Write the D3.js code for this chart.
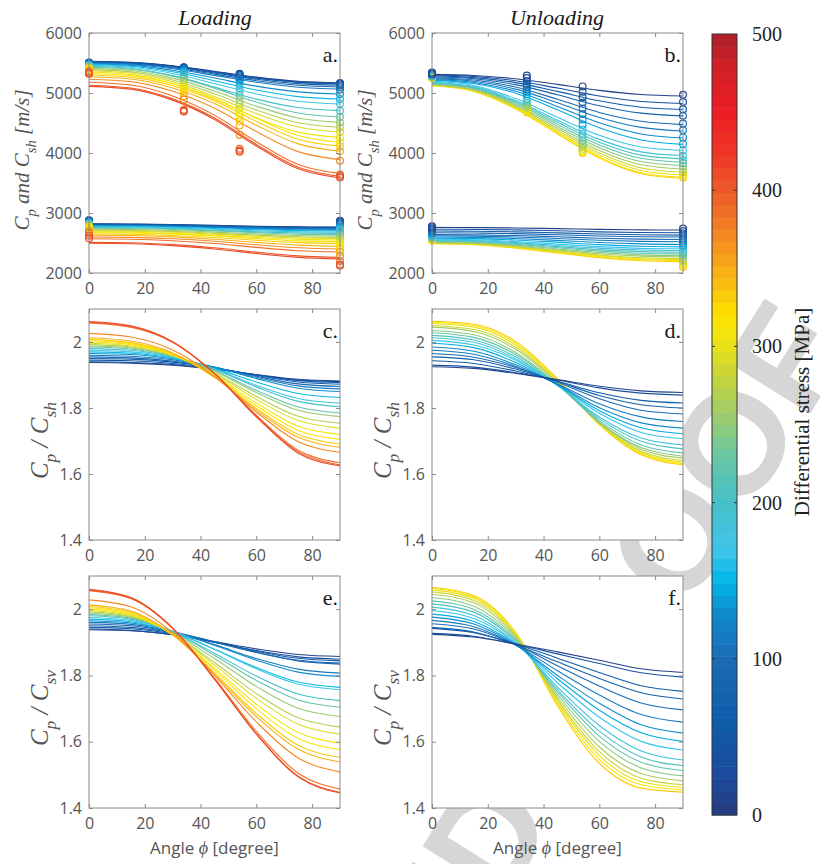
<!DOCTYPE html>
<html>
<head>
<meta charset="utf-8">
<script src="https://cdn.jsdelivr.net/npm/d3@7"></script>
<style>
  body { margin: 0; background: #fff; }
  svg { display: block; }
</style>
</head>
<body>
<div id="chart"></div>
<script>

//////// DATA ////////
var angles = [0, 15, 30, 45, 60, 75, 90];
var xTicks = [0, 20, 40, 60, 80];
var velTicks = [2000, 3000, 4000, 5000, 6000];
var ratioTicks = [1.4, 1.6, 1.8, 2];
var barTicks = [0, 100, 200, 300, 400, 500];

// differential stress of each loading / unloading step [MPa]
var loadStress = [10, 30, 50, 70, 90, 110, 130, 150, 175, 200, 225, 250, 270, 290, 305, 320, 335, 350, 370, 390, 400, 410];
var unloadStress = [335, 318, 300, 282, 264, 245, 225, 205, 185, 165, 145, 125, 110, 95, 75, 55, 35, 15];

// loading: fitted Cp (m/s) at the angles above
var loadCp = [
  [5530, 5512, 5454, 5361, 5264, 5195, 5170],
  [5525, 5507, 5448, 5353, 5255, 5186, 5160],
  [5520, 5502, 5442, 5346, 5246, 5176, 5150],
  [5515, 5496, 5434, 5334, 5230, 5157, 5130],
  [5505, 5485, 5420, 5315, 5205, 5128, 5100],
  [5495, 5474, 5405, 5294, 5178, 5097, 5067],
  [5485, 5460, 5380, 5249, 5114, 5018, 4983],
  [5475, 5446, 5354, 5205, 5050, 4940, 4900],
  [5460, 5428, 5325, 5158, 4984, 4862, 4817],
  [5445, 5408, 5290, 5098, 4898, 4758, 4706],
  [5430, 5397, 5281, 5081, 4849, 4666, 4600],
  [5410, 5374, 5248, 5032, 4781, 4583, 4511],
  [5390, 5352, 5217, 4986, 4717, 4505, 4428],
  [5370, 5329, 5186, 4942, 4656, 4432, 4350],
  [5350, 5306, 5154, 4893, 4588, 4348, 4261],
  [5325, 5291, 5153, 4912, 4579, 4293, 4178],
  [5300, 5264, 5122, 4872, 4527, 4230, 4111],
  [5270, 5233, 5084, 4823, 4463, 4152, 4028],
  [5230, 5190, 5029, 4747, 4358, 4023, 3889],
  [5180, 5134, 4951, 4631, 4189, 3808, 3656],
  [5130, 5084, 4902, 4583, 4143, 3763, 3611],
  [5110, 5064, 4881, 4560, 4117, 3736, 3583]
];
// loading: fitted Csh (m/s)
var loadCsh = [
  [2820, 2817, 2808, 2794, 2779, 2769, 2765],
  [2815, 2812, 2803, 2789, 2774, 2764, 2760],
  [2810, 2807, 2798, 2784, 2769, 2759, 2755],
  [2805, 2802, 2793, 2779, 2764, 2754, 2750],
  [2800, 2797, 2787, 2772, 2756, 2744, 2740],
  [2795, 2792, 2781, 2764, 2747, 2735, 2730],
  [2790, 2786, 2774, 2755, 2735, 2720, 2715],
  [2780, 2776, 2763, 2742, 2721, 2706, 2700],
  [2770, 2766, 2751, 2728, 2703, 2686, 2680],
  [2760, 2755, 2739, 2713, 2686, 2667, 2660],
  [2745, 2741, 2726, 2701, 2672, 2648, 2640],
  [2730, 2725, 2709, 2682, 2650, 2624, 2615],
  [2715, 2710, 2693, 2665, 2631, 2605, 2595],
  [2700, 2695, 2678, 2648, 2613, 2585, 2575],
  [2685, 2680, 2661, 2628, 2591, 2561, 2550],
  [2670, 2666, 2648, 2616, 2573, 2535, 2520],
  [2650, 2645, 2626, 2592, 2546, 2506, 2490],
  [2630, 2624, 2602, 2563, 2510, 2464, 2445],
  [2600, 2594, 2570, 2528, 2470, 2420, 2400],
  [2570, 2563, 2537, 2491, 2427, 2372, 2350],
  [2510, 2503, 2473, 2420, 2348, 2285, 2260],
  [2495, 2487, 2456, 2401, 2326, 2261, 2235]
];
// loading: Cp / Csh
var loadRatioSh = [
  [1.938, 1.936, 1.930, 1.918, 1.901, 1.887, 1.882],
  [1.940, 1.938, 1.932, 1.918, 1.900, 1.885, 1.880],
  [1.945, 1.943, 1.935, 1.921, 1.900, 1.883, 1.877],
  [1.950, 1.948, 1.939, 1.922, 1.899, 1.879, 1.872],
  [1.955, 1.952, 1.942, 1.923, 1.896, 1.873, 1.865],
  [1.960, 1.957, 1.946, 1.923, 1.893, 1.867, 1.858],
  [1.965, 1.962, 1.949, 1.924, 1.889, 1.860, 1.850],
  [1.970, 1.966, 1.951, 1.920, 1.879, 1.844, 1.832],
  [1.975, 1.970, 1.953, 1.917, 1.869, 1.829, 1.815],
  [1.980, 1.975, 1.955, 1.917, 1.864, 1.820, 1.804],
  [1.985, 1.979, 1.957, 1.913, 1.853, 1.803, 1.785],
  [1.988, 1.982, 1.958, 1.911, 1.847, 1.793, 1.774],
  [1.992, 1.985, 1.959, 1.906, 1.835, 1.775, 1.754],
  [1.996, 1.988, 1.960, 1.903, 1.826, 1.762, 1.739],
  [2.000, 1.992, 1.961, 1.899, 1.815, 1.745, 1.720],
  [2.004, 1.995, 1.962, 1.896, 1.807, 1.732, 1.705],
  [2.008, 1.998, 1.964, 1.894, 1.799, 1.720, 1.691],
  [2.013, 2.003, 1.967, 1.893, 1.794, 1.711, 1.681],
  [2.026, 2.015, 1.976, 1.896, 1.788, 1.698, 1.666],
  [2.058, 2.045, 1.999, 1.905, 1.778, 1.672, 1.634],
  [2.060, 2.047, 2.000, 1.904, 1.775, 1.667, 1.628],
  [2.062, 2.049, 2.001, 1.904, 1.773, 1.663, 1.624]
];
// loading: Cp / Csv
var loadRatioSv = [
  [1.938, 1.935, 1.923, 1.902, 1.880, 1.863, 1.857],
  [1.940, 1.936, 1.923, 1.900, 1.875, 1.856, 1.849],
  [1.945, 1.941, 1.926, 1.901, 1.873, 1.852, 1.844],
  [1.950, 1.945, 1.929, 1.900, 1.870, 1.846, 1.837],
  [1.955, 1.950, 1.932, 1.902, 1.869, 1.844, 1.834],
  [1.960, 1.954, 1.931, 1.893, 1.851, 1.819, 1.807],
  [1.965, 1.958, 1.933, 1.891, 1.846, 1.810, 1.797],
  [1.970, 1.962, 1.931, 1.879, 1.824, 1.780, 1.764],
  [1.975, 1.966, 1.934, 1.879, 1.820, 1.774, 1.757],
  [1.980, 1.970, 1.931, 1.867, 1.798, 1.744, 1.724],
  [1.984, 1.973, 1.931, 1.861, 1.785, 1.726, 1.704],
  [1.988, 1.976, 1.929, 1.851, 1.767, 1.701, 1.676],
  [1.992, 1.978, 1.926, 1.839, 1.745, 1.672, 1.644],
  [1.996, 1.981, 1.925, 1.832, 1.731, 1.653, 1.623],
  [2.000, 1.984, 1.923, 1.822, 1.713, 1.628, 1.596],
  [2.004, 1.987, 1.923, 1.816, 1.700, 1.610, 1.576],
  [2.008, 1.990, 1.922, 1.808, 1.685, 1.589, 1.553],
  [2.013, 1.994, 1.923, 1.804, 1.676, 1.577, 1.539],
  [2.028, 2.007, 1.929, 1.800, 1.660, 1.551, 1.509],
  [2.056, 2.032, 1.942, 1.792, 1.631, 1.505, 1.457],
  [2.058, 2.034, 1.942, 1.789, 1.624, 1.496, 1.447],
  [2.060, 2.035, 1.943, 1.789, 1.623, 1.494, 1.445]
];

// unloading: fitted Cp (m/s)
var unloadCp = [
  [5120, 5027, 4735, 4318, 3917, 3655, 3578],
  [5125, 5033, 4742, 4329, 3931, 3671, 3594],
  [5130, 5040, 4756, 4352, 3963, 3709, 3634],
  [5135, 5048, 4771, 4377, 4000, 3751, 3678],
  [5140, 5056, 4789, 4409, 4043, 3804, 3734],
  [5150, 5068, 4810, 4443, 4089, 3858, 3790],
  [5160, 5081, 4832, 4477, 4135, 3912, 3846],
  [5170, 5094, 4853, 4511, 4181, 3965, 3902],
  [5180, 5107, 4875, 4545, 4227, 4019, 3958],
  [5195, 5126, 4907, 4595, 4296, 4099, 4042],
  [5210, 5157, 4997, 4719, 4420, 4218, 4143],
  [5225, 5176, 5030, 4776, 4503, 4317, 4249],
  [5240, 5196, 5065, 4838, 4593, 4427, 4366],
  [5255, 5216, 5099, 4895, 4676, 4528, 4473],
  [5270, 5237, 5140, 4970, 4788, 4664, 4618],
  [5285, 5257, 5173, 5027, 4870, 4763, 4724],
  [5300, 5276, 5205, 5082, 4949, 4858, 4825],
  [5310, 5292, 5238, 5144, 5044, 4975, 4950]
];
// unloading: fitted Csh (m/s)
var unloadCsh = [
  [2490, 2472, 2415, 2334, 2256, 2205, 2190],
  [2495, 2478, 2423, 2345, 2270, 2221, 2207],
  [2500, 2483, 2431, 2356, 2285, 2238, 2224],
  [2505, 2489, 2439, 2368, 2299, 2254, 2241],
  [2510, 2496, 2450, 2385, 2322, 2281, 2269],
  [2520, 2506, 2463, 2401, 2341, 2302, 2291],
  [2530, 2517, 2477, 2420, 2365, 2330, 2319],
  [2540, 2528, 2492, 2440, 2389, 2357, 2347],
  [2550, 2540, 2506, 2459, 2414, 2384, 2375],
  [2565, 2555, 2525, 2481, 2439, 2411, 2403],
  [2580, 2573, 2551, 2514, 2473, 2446, 2436],
  [2600, 2594, 2575, 2543, 2508, 2485, 2476],
  [2620, 2615, 2600, 2574, 2546, 2527, 2520],
  [2640, 2636, 2624, 2603, 2580, 2565, 2559],
  [2670, 2666, 2656, 2637, 2617, 2604, 2599],
  [2700, 2697, 2686, 2669, 2650, 2637, 2632],
  [2730, 2727, 2718, 2703, 2686, 2675, 2671],
  [2760, 2758, 2751, 2740, 2727, 2719, 2716]
];
// unloading: Cp / Csh
var unloadRatioSh = [
  [2.063, 2.054, 2.002, 1.889, 1.750, 1.658, 1.628],
  [2.060, 2.050, 1.997, 1.886, 1.750, 1.661, 1.631],
  [2.056, 2.045, 1.991, 1.883, 1.752, 1.665, 1.636],
  [2.050, 2.038, 1.984, 1.879, 1.753, 1.669, 1.641],
  [2.045, 2.032, 1.978, 1.877, 1.756, 1.675, 1.648],
  [2.035, 2.022, 1.968, 1.872, 1.756, 1.680, 1.654],
  [2.028, 2.014, 1.962, 1.870, 1.761, 1.688, 1.664],
  [2.020, 2.006, 1.955, 1.868, 1.767, 1.699, 1.676],
  [2.013, 1.999, 1.949, 1.868, 1.773, 1.709, 1.688],
  [2.005, 1.991, 1.945, 1.870, 1.784, 1.726, 1.707],
  [1.996, 1.983, 1.938, 1.870, 1.792, 1.740, 1.722],
  [1.985, 1.972, 1.931, 1.871, 1.801, 1.755, 1.739],
  [1.975, 1.963, 1.926, 1.873, 1.813, 1.773, 1.759],
  [1.965, 1.954, 1.923, 1.878, 1.828, 1.793, 1.782],
  [1.955, 1.946, 1.918, 1.880, 1.838, 1.810, 1.800],
  [1.943, 1.935, 1.912, 1.881, 1.846, 1.823, 1.815],
  [1.930, 1.924, 1.907, 1.885, 1.861, 1.845, 1.839],
  [1.925, 1.920, 1.905, 1.886, 1.866, 1.852, 1.847]
];
// unloading: Cp / Csv
var unloadRatioSv = [
  [2.066, 2.041, 1.930, 1.708, 1.535, 1.460, 1.448],
  [2.063, 2.037, 1.928, 1.715, 1.547, 1.470, 1.455],
  [2.058, 2.032, 1.924, 1.721, 1.558, 1.479, 1.462],
  [2.052, 2.026, 1.921, 1.727, 1.570, 1.490, 1.470],
  [2.045, 2.019, 1.917, 1.734, 1.584, 1.504, 1.482],
  [2.035, 2.009, 1.912, 1.742, 1.601, 1.521, 1.497],
  [2.025, 1.999, 1.907, 1.750, 1.617, 1.538, 1.513],
  [2.016, 1.991, 1.903, 1.757, 1.632, 1.554, 1.528],
  [2.006, 1.981, 1.898, 1.765, 1.649, 1.572, 1.545],
  [1.996, 1.972, 1.897, 1.778, 1.674, 1.601, 1.575],
  [1.985, 1.963, 1.894, 1.790, 1.695, 1.627, 1.601],
  [1.976, 1.955, 1.892, 1.800, 1.716, 1.651, 1.626],
  [1.966, 1.947, 1.892, 1.814, 1.741, 1.682, 1.659],
  [1.956, 1.940, 1.893, 1.829, 1.768, 1.717, 1.696],
  [1.945, 1.931, 1.892, 1.841, 1.791, 1.748, 1.729],
  [1.942, 1.929, 1.895, 1.852, 1.809, 1.769, 1.752],
  [1.927, 1.918, 1.894, 1.865, 1.836, 1.808, 1.795],
  [1.924, 1.916, 1.895, 1.871, 1.846, 1.820, 1.809]
];

// measured velocities (circles): one column per measurement angle
var markAnglesP = [0, 34, 54, 90];
var markAnglesS = [0, 90];
var loadCpMarks = [
  [5510, 5505, 5500, 5495, 5490, 5480, 5475, 5465, 5460, 5450, 5440, 5430, 5420, 5410, 5400, 5390, 5380, 5370, 5360, 5350, 5330, 5320],
  [5430, 5425, 5420, 5410, 5400, 5390, 5370, 5350, 5320, 5290, 5250, 5210, 5170, 5130, 5090, 5050, 5000, 4950, 4890, 4720, 4700, 4690],
  [5320, 5310, 5300, 5280, 5260, 5230, 5190, 5140, 5080, 5020, 4950, 4880, 4810, 4740, 4670, 4600, 4530, 4460, 4300, 4070, 4040, 4020],
  [5165, 5155, 5145, 5125, 5095, 5060, 4985, 4900, 4820, 4705, 4600, 4510, 4430, 4350, 4260, 4180, 4110, 4030, 3870, 3640, 3615, 3590]
];
var loadCshMarks = [
  [2880, 2875, 2870, 2865, 2860, 2850, 2840, 2830, 2820, 2810, 2800, 2790, 2780, 2770, 2760, 2740, 2720, 2700, 2680, 2660, 2620, 2580],
  [2870, 2860, 2850, 2840, 2820, 2800, 2780, 2750, 2720, 2690, 2650, 2610, 2570, 2530, 2490, 2450, 2400, 2350, 2280, 2200, 2140, 2120]
];
var unloadCpMarks = [
  [5250, 5255, 5260, 5265, 5270, 5275, 5280, 5285, 5290, 5295, 5300, 5305, 5310, 5315, 5320, 5325, 5330, 5340],
  [4680, 4700, 4720, 4750, 4780, 4810, 4840, 4870, 4900, 4940, 4980, 5020, 5060, 5100, 5150, 5200, 5250, 5290],
  [4000, 4020, 4040, 4070, 4110, 4150, 4200, 4260, 4320, 4390, 4470, 4560, 4650, 4740, 4840, 4930, 5020, 5110],
  [3590, 3600, 3640, 3680, 3730, 3780, 3830, 3880, 3950, 4040, 4150, 4260, 4380, 4490, 4620, 4730, 4850, 4970]
];
var unloadCshMarks = [
  [2540, 2550, 2560, 2570, 2580, 2590, 2600, 2610, 2620, 2630, 2640, 2660, 2680, 2700, 2720, 2740, 2760, 2780],
  [2100, 2130, 2160, 2190, 2220, 2260, 2300, 2340, 2380, 2420, 2460, 2500, 2540, 2580, 2620, 2660, 2700, 2740]
];

// colour map of the colour bar (stress -> colour)
var cmapStops = [0, 25, 60, 100, 130, 150, 170, 200, 230, 255, 285, 305, 320, 345, 370, 400, 425, 450, 480, 500];
var cmapColors = ["#273b7d", "#1c4b9c", "#0e5daa", "#1b6bb6", "#0f8ccc", "#00b6e8", "#40c6ea", "#45c0c8", "#6ac6a4",
                  "#9ccb6e", "#cdd632", "#f0e410", "#fde300", "#f8b414", "#f48a22", "#ec5a2a", "#ee3526", "#ed1d24",
                  "#d01f27", "#a82129"];


//////// CANVAS ////////
var W = 820, H = 864;
var svg = d3.select("#chart").append("svg")
    .attr("width", W)
    .attr("height", H)
    .style("background", "#fff");

var cmap = d3.scaleLinear()
    .domain(cmapStops)
    .range(cmapColors)
    .interpolate(d3.interpolateRgb)
    .clamp(true);

var nBands = 64;
function bandColor(v) {
    var k = Math.min(nBands - 1, Math.floor(v / 500 * nBands));
    return cmap((k + 0.5) * 500 / nBands);
}

var sans = "'Open Sans', 'Noto Sans', sans-serif";
var serif = "'Liberation Serif', 'DejaVu Serif', serif";
var axisGray = "#8a8a8a";
var textGray = "#555";

// watermark (under everything; the white axes hide it)
svg.append("text")
    .attr("transform", "translate(852,347) rotate(-58)")
    .attr("text-anchor", "end")
    .attr("font-family", "'Liberation Sans', Arial, sans-serif")
    .attr("font-weight", "bold")
    .attr("font-size", 145)
    .attr("fill", "#d6d6d6")
    .text("UNCORRECTED PROOF");


//////// PANELS ////////
var col = [{left: 89, right: 340}, {left: 432, right: 683}];
var row = [{top: 33, bottom: 273}, {top: 309, bottom: 540}, {top: 576, bottom: 808}];

var panels = [
    {c: 0, r: 0, tag: "a.", dom: [2000, 6000], ticks: velTicks, stress: loadStress, curves: [loadCp, loadCsh],
     marks: [[markAnglesP, loadCpMarks], [markAnglesS, loadCshMarks]], label: "vel"},
    {c: 1, r: 0, tag: "b.", dom: [2000, 6000], ticks: velTicks, stress: unloadStress, curves: [unloadCp, unloadCsh],
     marks: [[markAnglesP, unloadCpMarks], [markAnglesS, unloadCshMarks]], label: "vel"},
    {c: 0, r: 1, tag: "c.", dom: [1.4, 2.1], ticks: ratioTicks, stress: loadStress, curves: [loadRatioSh], marks: [], label: "sh"},
    {c: 1, r: 1, tag: "d.", dom: [1.4, 2.1], ticks: ratioTicks, stress: unloadStress, curves: [unloadRatioSh], marks: [], label: "sh"},
    {c: 0, r: 2, tag: "e.", dom: [1.4, 2.1], ticks: ratioTicks, stress: loadStress, curves: [loadRatioSv], marks: [], label: "sv"},
    {c: 1, r: 2, tag: "f.", dom: [1.4, 2.1], ticks: ratioTicks, stress: unloadStress, curves: [unloadRatioSv], marks: [], label: "sv"}
];

panels.forEach(function(p) {
    var L = col[p.c].left, R = col[p.c].right, T = row[p.r].top, B = row[p.r].bottom;

    var xScale = d3.scaleLinear().domain([0, 90]).range([L, R]);
    var yScale = d3.scaleLinear().domain(p.dom).range([B, T]);

    var g = svg.append("g");

    // white plot area
    g.append("rect")
        .attr("x", L).attr("y", T)
        .attr("width", R - L).attr("height", B - T)
        .attr("fill", "#fff");

    var line = d3.line()
        .x(function(d) { return xScale(d[0]); })
        .y(function(d) { return yScale(d[1]); })
        .curve(d3.curveMonotoneX);

    // curves
    p.curves.forEach(function(set) {
        set.forEach(function(vals, i) {
            g.append("path")
                .datum(vals.map(function(v, j) { return [angles[j], v]; }))
                .attr("d", line)
                .attr("fill", "none")
                .attr("stroke", bandColor(p.stress[i]))
                .attr("stroke-width", 1.1);
        });
    });

    // measured points
    p.marks.forEach(function(m) {
        var angs = m[0], cols = m[1];
        p.stress.forEach(function(s, i) {
            angs.forEach(function(a, j) {
                g.append("circle")
                    .attr("cx", xScale(a))
                    .attr("cy", yScale(cols[j][i]))
                    .attr("r", 3.4)
                    .attr("fill", "none")
                    .attr("stroke", bandColor(s))
                    .attr("stroke-width", 1.2);
            });
        });
    });

    // box
    g.append("rect")
        .attr("x", L).attr("y", T)
        .attr("width", R - L).attr("height", B - T)
        .attr("fill", "none")
        .attr("stroke", axisGray)
        .attr("stroke-width", 1);

    // axes, ticks pointing inward
    function styleAxis(sel) {
        sel.select(".domain").remove();
        sel.selectAll(".tick line").attr("stroke", axisGray);
        sel.selectAll(".tick text")
            .attr("fill", textGray)
            .attr("font-family", sans)
            .attr("font-size", 16);
    }

    g.append("g")
        .attr("transform", "translate(0," + B + ")")
        .call(d3.axisBottom(xScale).tickValues(xTicks).tickSize(-4).tickPadding(10))
        .call(styleAxis);
    g.append("g")
        .attr("transform", "translate(0," + T + ")")
        .call(d3.axisTop(xScale).tickValues(xTicks).tickSize(-4).tickFormat(""))
        .call(styleAxis);
    g.append("g")
        .attr("transform", "translate(" + L + ",0)")
        .call(d3.axisLeft(yScale).tickValues(p.ticks).tickSize(-4).tickPadding(7).tickFormat(d3.format("~g")))
        .call(styleAxis);
    g.append("g")
        .attr("transform", "translate(" + R + ",0)")
        .call(d3.axisRight(yScale).tickValues(p.ticks).tickSize(-4).tickFormat(""))
        .call(styleAxis);

    // panel tag
    g.append("text")
        .attr("x", R - 2)
        .attr("y", T + 29)
        .attr("text-anchor", "end")
        .attr("font-family", serif)
        .attr("font-size", 22)
        .attr("fill", "#1a1a1a")
        .text(p.tag);

    // y label
    var lx = p.label === "vel" ? L - 60 : L - 41;
    var ly = p.label === "vel" ? (T + B) / 2 + 7 : (T + B) / 2 + 16;
    var fs = p.label === "vel" ? 21 : 25;
    var parts = p.label === "vel"
        ? [["C", 0], ["p", 1], [" and ", 0], ["C", 0], ["sh", 1], [" [m/s]", 0]]
        : [["C", 0], ["p", 1], [" / ", 0], ["C", 0], [p.label, 1]];
    var yl = g.append("text")
        .attr("transform", "translate(" + lx + "," + ly + ") rotate(-90)")
        .attr("text-anchor", "middle")
        .attr("font-family", serif)
        .attr("font-style", "italic")
        .attr("font-size", fs)
        .attr("fill", textGray);
    var low = false;
    parts.forEach(function(pt) {
        var ts = yl.append("tspan").text(pt[0]);
        if (pt[1]) {
            ts.attr("font-size", fs * 0.7).attr("dy", fs * 0.33);
            low = true;
        } else if (low) {
            ts.attr("dy", -fs * 0.33);
            low = false;
        }
    });

    // x label on the bottom row
    if (p.r === 2) {
        var xl = g.append("text")
            .attr("x", (L + R) / 2)
            .attr("y", 854)
            .attr("text-anchor", "middle")
            .attr("font-family", sans)
            .attr("font-size", 17)
            .attr("fill", textGray);
        xl.append("tspan").text("Angle ");
        xl.append("tspan").attr("font-family", serif).attr("font-style", "italic").attr("font-size", 18).text("\u03d5");
        xl.append("tspan").text(" [degree]");
    }
});

// column titles
[["Loading", 215], ["Unloading", 557]].forEach(function(t) {
    svg.append("text")
        .attr("x", t[1])
        .attr("y", 25)
        .attr("text-anchor", "middle")
        .attr("font-family", serif)
        .attr("font-style", "italic")
        .attr("font-size", 22)
        .attr("fill", "#1a1a1a")
        .text(t[0]);
});


//////// COLOUR BAR ////////
var cbL = 712, cbR = 737, cbT = 34, cbB = 815;
var cbScale = d3.scaleLinear().domain([0, 500]).range([cbB, cbT]);
var bands = d3.range(nBands);

svg.append("g").selectAll("rect")
    .data(bands)
    .enter().append("rect")
        .attr("x", cbL)
        .attr("width", cbR - cbL)
        .attr("y", function(k) { return cbScale((k + 1) * 500 / nBands); })
        .attr("height", function(k) { return cbScale(k * 500 / nBands) - cbScale((k + 1) * 500 / nBands) + 0.5; })
        .attr("fill", function(k) { return cmap((k + 0.5) * 500 / nBands); });

svg.append("rect")
    .attr("x", cbL).attr("y", cbT)
    .attr("width", cbR - cbL).attr("height", cbB - cbT)
    .attr("fill", "none")
    .attr("stroke", "#333")
    .attr("stroke-width", 1);

var cbAxis = svg.append("g")
    .attr("transform", "translate(" + cbR + ",0)")
    .call(d3.axisRight(cbScale).tickValues(barTicks).tickSize(0).tickPadding(15));
cbAxis.select(".domain").remove();
cbAxis.selectAll(".tick text")
    .attr("fill", "#222")
    .attr("font-family", serif)
    .attr("font-size", 20);

// small inner ticks on both sides of the bar
barTicks.slice(1, -1).forEach(function(v) {
    svg.append("line").attr("x1", cbL).attr("x2", cbL + 3)
        .attr("y1", cbScale(v)).attr("y2", cbScale(v)).attr("stroke", "#333");
    svg.append("line").attr("x1", cbR - 3).attr("x2", cbR)
        .attr("y1", cbScale(v)).attr("y2", cbScale(v)).attr("stroke", "#333");
});

svg.append("text")
    .attr("transform", "translate(809,412) rotate(-90)")
    .attr("text-anchor", "middle")
    .attr("font-family", serif)
    .attr("font-size", 21)
    .attr("fill", "#222")
    .text("Differential stress [MPa]");

</script>
</body>
</html>
